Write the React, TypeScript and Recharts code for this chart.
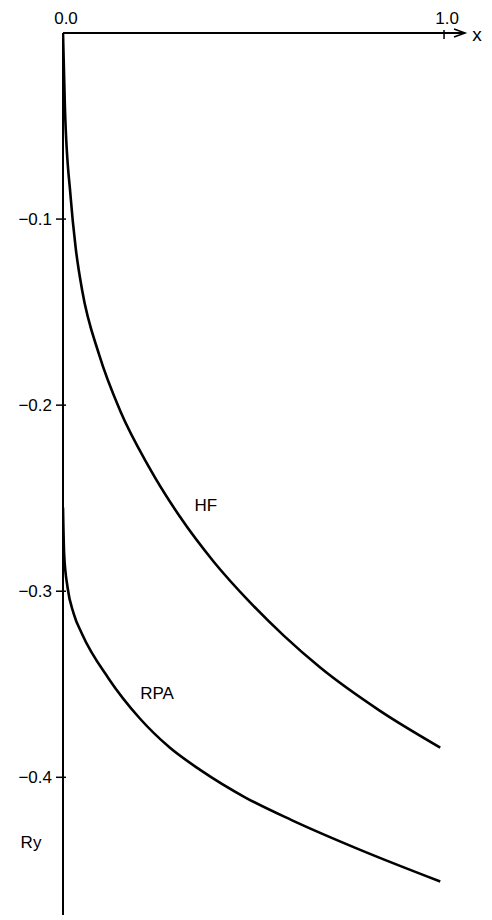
import { LineChart, Line, XAxis, YAxis, ReferenceDot } from 'recharts';

const hfX = [0, 0.005, 0.02, 0.033, 0.05, 0.095, 0.15, 0.225, 0.307, 0.395, 0.491, 0.58, 0.675, 0.83, 0.99];
const hfY = [0, -0.04, -0.088, -0.115, -0.138, -0.173, -0.203, -0.233, -0.26, -0.284, -0.306, -0.324, -0.341, -0.364, -0.384];

const rpaX = [0, 0.003, 0.012, 0.028, 0.05, 0.12, 0.2, 0.28, 0.36, 0.48, 0.6, 0.78, 0.99];
const rpaY = [-0.255, -0.28, -0.298, -0.312, -0.323, -0.347, -0.368, -0.384, -0.396, -0.411, -0.423, -0.439, -0.456];

const xTicks = [0, 1];
const yTicks = [-0.4, -0.3, -0.2, -0.1];

const FONT = '"Liberation Sans", Arial, sans-serif';

const hfData = hfX.map((x, i) => ({ x, y: hfY[i] }));
const rpaData = rpaX.map((x, i) => ({ x, y: rpaY[i] }));

function TextMark({ cx, cy, text, dx = 0 }: { cx?: number; cy?: number; text: string; dx?: number }) {
  if (cx == null || cy == null) return null;
  return (
    <text x={cx + dx} y={cy} textAnchor="middle" dominantBaseline="central" fontFamily={FONT} fontSize={17} fill="#000">
      {text}
    </text>
  );
}

function Arrow({ cx, cy }: { cx?: number; cy?: number }) {
  if (cx == null || cy == null) return null;
  return (
    <g>
      <path d={`M${cx - 11},${cy - 4} L${cx},${cy} L${cx - 11},${cy + 4}`} stroke="#000" strokeWidth={1.6} fill="none" />
      <text x={cx + 12} y={cy + 1} textAnchor="middle" dominantBaseline="central" fontFamily={FONT} fontSize={19} fill="#000">
        x
      </text>
    </g>
  );
}

function XTick({ x, y, payload }: { x?: number; y?: number; payload?: { value: number } }) {
  if (x == null || y == null || !payload) return null;
  return (
    <g>
      {payload.value === 1 && <line x1={x} x2={x} y1={y + 2} y2={y + 11} stroke="#000" strokeWidth={1.5} />}
      <text x={x + 3} y={y - 4} textAnchor="middle" fontFamily={FONT} fontSize={17} fill="#000">
        {payload.value.toFixed(1)}
      </text>
    </g>
  );
}

function YTick({ x, y, payload }: { x?: number; y?: number; payload?: { value: number } }) {
  if (x == null || y == null || !payload) return null;
  const ax = x + 9;
  return (
    <g>
      <line x1={ax - 5} x2={ax + 5} y1={y} y2={y} stroke="#000" strokeWidth={1.5} />
      <text x={ax - 9} y={y} textAnchor="end" dominantBaseline="central" fontFamily={FONT} fontSize={17} fill="#000">
        {payload.value.toFixed(1).replace('-', '\u2212')}
      </text>
    </g>
  );
}

export default function App() {
  return (
    <LineChart width={484} height={912} margin={{ top: 0, right: 27, bottom: 5, left: 0 }}>
      <XAxis
        type="number"
        dataKey="x"
        orientation="top"
        domain={[0, 1.055]}
        ticks={xTicks}
        height={25}
        axisLine={{ stroke: '#000', strokeWidth: 2 }}
        tickLine={false}
        tickSize={4}
        tickMargin={1}
        tick={<XTick />}
        allowDataOverflow
      />
      <YAxis
        type="number"
        dataKey="y"
        domain={[-0.474, 0]}
        ticks={yTicks}
        width={55}
        axisLine={{ stroke: '#000', strokeWidth: 2 }}
        tickLine={false}
        tickSize={9}
        tick={<YTick />}
        allowDataOverflow
      />
      <Line data={hfData} dataKey="y" type="monotone" stroke="#000" strokeWidth={2.6} dot={false} isAnimationActive={false} />
      <Line data={rpaData} dataKey="y" type="monotone" stroke="#000" strokeWidth={2.6} dot={false} isAnimationActive={false} />
      <ReferenceDot x={1.055} y={0} ifOverflow="visible" shape={<Arrow />} />
      <ReferenceDot x={0.375} y={-0.254} ifOverflow="visible" shape={<TextMark text="HF" />} />
      <ReferenceDot x={0.247} y={-0.355} ifOverflow="visible" shape={<TextMark text="RPA" />} />
      <ReferenceDot x={0} y={-0.435} ifOverflow="visible" shape={<TextMark text="Ry" dx={-32} />} />
    </LineChart>
  );
}
